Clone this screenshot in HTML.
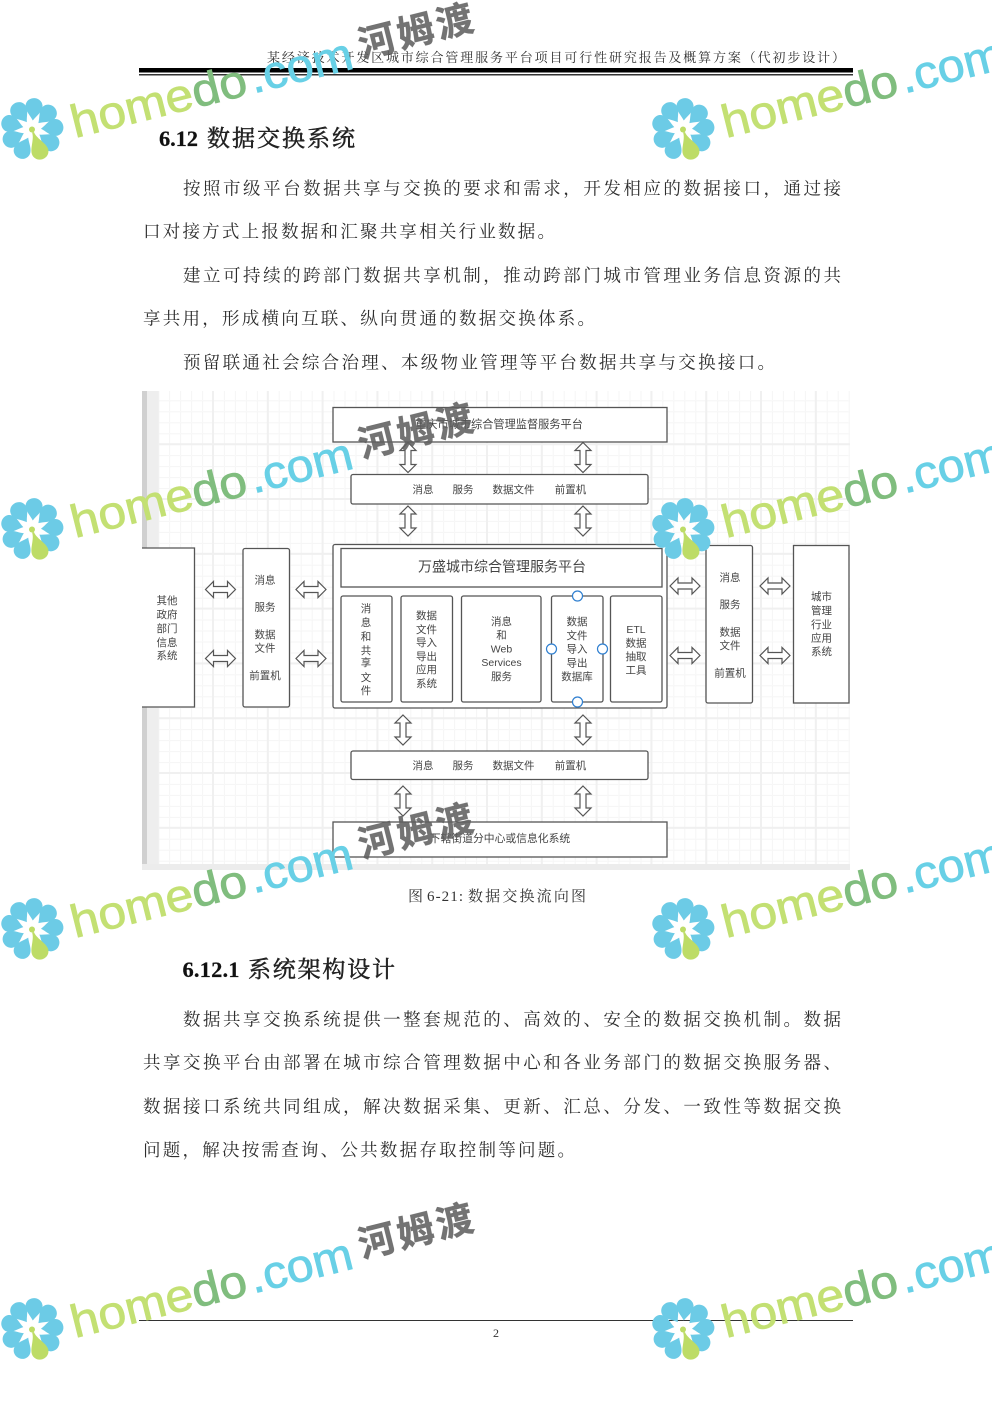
<!DOCTYPE html>
<html lang="zh">
<head>
<meta charset="utf-8">
<title>数据交换系统</title>
<style>
html,body{margin:0;padding:0;background:#fff}
svg{display:block}
.b{font-family:"Liberation Serif","Noto Serif CJK SC",serif;font-size:17.5px;fill:#2e2e2e}
.h{font-family:"Liberation Serif",serif;font-weight:bold;font-size:22.5px;fill:#111;stroke:#111;stroke-width:.2}
.c{font-family:"Liberation Serif","Noto Serif CJK SC",serif;font-size:23px;fill:#222;stroke:#222;stroke-width:.5}
.cp{font-family:"Liberation Serif","Noto Serif CJK SC",serif;font-size:15px;fill:#333}
.d{font-family:"Liberation Sans","Noto Sans CJK SC",sans-serif;font-size:10.5px;fill:#444;text-anchor:middle}
.box{fill:#fff;stroke:#555;stroke-width:1.3}
.ar{fill:#fff;stroke:#555;stroke-width:1.2}
.hd{fill:#fff;stroke:#2f7fd0;stroke-width:1.2}
.w1{font-family:"Liberation Sans",sans-serif;font-size:46px;stroke-width:.8}
.lg{fill:#c3e073;stroke:#c3e073}
.gn{fill:#80bd7e;stroke:#80bd7e}
.cy{fill:#68d0e6;stroke:#68d0e6}
.w2{font-family:"Liberation Sans","Noto Sans CJK SC",sans-serif;font-size:37px;font-weight:bold;fill:#606060;fill-opacity:.88;stroke:#606060;stroke-opacity:.6;stroke-width:.6}
</style>
</head>
<body>
<svg xmlns="http://www.w3.org/2000/svg" width="992" height="1403" viewBox="0 0 992 1403">
<defs>
<pattern id="mn" patternUnits="userSpaceOnUse" x="213" y="773" width="10.96" height="10.96"><path d="M0.5 0.5H10.96M0.5 0.5V10.96" fill="none" stroke="#f5f5f5" stroke-width="1"/></pattern>
<pattern id="mj" patternUnits="userSpaceOnUse" x="212" y="772" width="54.8" height="54.8"><path d="M0 1H54.8M1 0V54.8" fill="none" stroke="#f0f0f0" stroke-width="2"/></pattern>
<path id="va" d="M0,-15 L8,-7 L3,-7 L3,7 L8,7 L0,15 L-8,7 L-3,7 L-3,-7 L-8,-7 Z"/>
<g id="fl">
<g fill="#6ccbe6">
<path id="pt" d="M0,-9 C-3,-14 -8.5,-18 -8.5,-23.5 A8.5,8 0 0 1 8.5,-23.5 C8.5,-18 3,-14 0,-9Z" transform="rotate(5)"/>
<use href="#pt" transform="rotate(40)"/><use href="#pt" transform="rotate(80)"/><use href="#pt" transform="rotate(120)"/>
<use href="#pt" transform="rotate(200)"/><use href="#pt" transform="rotate(240)"/><use href="#pt" transform="rotate(280)"/><use href="#pt" transform="rotate(320)"/>
</g>
<g transform="rotate(160)"><path d="M-1,-3 C-1,-10 -8.5,-17 -8.5,-23.5 A8.5,8 0 0 1 8.5,-23.5 C8.5,-17 1,-10 1,-3Z" fill="#bddc66"/></g>
<circle cx="0" cy="0" r="3" fill="#bddc66"/>
</g>
</defs>

<rect width="992" height="1403" fill="#fff"/>

<!-- header -->
<text x="267" y="62" textLength="578" lengthAdjust="spacing" style="font-family:'Liberation Serif','Noto Serif CJK SC',serif;font-size:13px;fill:#333">某经济技术开发区城市综合管理服务平台项目可行性研究报告及概算方案（代初步设计）</text>
<rect x="139" y="68" width="714" height="4.5" fill="#000"/>
<rect x="139" y="74" width="714" height="1.5" fill="#333"/>

<!-- heading -->
<text class="h" x="159" y="146" textLength="39">6.12</text>
<text class="c" x="207" y="146" textLength="148" lengthAdjust="spacing">数据交换系统</text>

<!-- body -->
<text class="b" x="183" y="194.5" textLength="658" lengthAdjust="spacing">按照市级平台数据共享与交换的要求和需求，开发相应的数据接口，通过接</text>
<text class="b" x="143" y="237.5" textLength="412" lengthAdjust="spacing">口对接方式上报数据和汇聚共享相关行业数据。</text>
<text class="b" x="183" y="281.5" textLength="658" lengthAdjust="spacing">建立可持续的跨部门数据共享机制，推动跨部门城市管理业务信息资源的共</text>
<text class="b" x="143" y="324.5" textLength="452" lengthAdjust="spacing">享共用，形成横向互联、纵向贯通的数据交换体系。</text>
<text class="b" x="183" y="368.5" textLength="592" lengthAdjust="spacing">预留联通社会综合治理、本级物业管理等平台数据共享与交换接口。</text>

<!-- diagram -->
<g>
<rect x="142" y="391" width="708" height="479" fill="#fff"/>
<rect x="142" y="391" width="708" height="479" fill="url(#mn)"/>
<rect x="142" y="391" width="708" height="479" fill="url(#mj)"/>
<rect x="142" y="391" width="5" height="479" fill="#d0d0d0"/>
<rect x="147" y="391" width="11" height="479" fill="#eeeeee"/>
<rect x="142" y="864" width="708" height="6" fill="#ececec"/>

<rect class="box" x="333" y="407.5" width="334" height="34.5"/>
<rect class="box" x="351" y="474.5" width="297" height="29.5" rx="2"/>
<rect class="box" x="333" y="544.5" width="334" height="163.5" rx="2"/>
<rect class="box" x="341" y="548.5" width="321" height="38.5"/>
<rect class="box" x="341" y="596" width="51" height="106" rx="2"/>
<rect class="box" x="401" y="596" width="51.5" height="106" rx="2"/>
<rect class="box" x="461.5" y="596" width="79.5" height="106" rx="2"/>
<rect class="box" x="551.5" y="596" width="51.5" height="106" rx="2"/>
<rect class="box" x="610.5" y="596" width="51.5" height="106" rx="2"/>
<rect x="142" y="548" width="52.5" height="159" fill="#fff"/>
<path d="M142,548 H194.5 V707 H142" fill="none" stroke="#555" stroke-width="1.3"/>
<rect class="box" x="243" y="548.5" width="46.5" height="158.5" rx="2"/>
<rect class="box" x="706" y="545.5" width="46.5" height="157.5" rx="2"/>
<rect class="box" x="793.5" y="545.5" width="55.5" height="157.5"/>
<rect class="box" x="351" y="751" width="297" height="28.5" rx="2"/>
<rect class="box" x="333" y="822" width="334" height="35"/>

<circle class="hd" cx="577.5" cy="596" r="5"/>
<circle class="hd" cx="551.5" cy="649" r="5"/>
<circle class="hd" cx="602.5" cy="649" r="5"/>
<circle class="hd" cx="577.5" cy="702" r="5"/>

<g class="ar">
<use href="#va" transform="translate(408,457.5)"/>
<use href="#va" transform="translate(583,457.5)"/>
<use href="#va" transform="translate(408,521)"/>
<use href="#va" transform="translate(583,521)"/>
<use href="#va" transform="translate(403,730)"/>
<use href="#va" transform="translate(583,730)"/>
<use href="#va" transform="translate(403,801)"/>
<use href="#va" transform="translate(583,801)"/>
<use href="#va" transform="translate(220.5,589.5) rotate(90)"/>
<use href="#va" transform="translate(220.5,658.5) rotate(90)"/>
<use href="#va" transform="translate(311,589.5) rotate(90)"/>
<use href="#va" transform="translate(311,658.5) rotate(90)"/>
<use href="#va" transform="translate(685,586) rotate(90)"/>
<use href="#va" transform="translate(685,655.5) rotate(90)"/>
<use href="#va" transform="translate(775,586) rotate(90)"/>
<use href="#va" transform="translate(775,655.5) rotate(90)"/>
</g>

<text class="d" x="499" y="428" style="font-size:11.2px">重庆市城市综合管理监督服务平台</text>
<g>
<text class="d" x="423" y="493">消息</text><text class="d" x="463" y="493">服务</text><text class="d" x="513.5" y="493">数据文件</text><text class="d" x="570.5" y="493">前置机</text>
<text class="d" x="423" y="769">消息</text><text class="d" x="463" y="769">服务</text><text class="d" x="513.5" y="769">数据文件</text><text class="d" x="570.5" y="769">前置机</text>
</g>
<text class="d" x="502" y="571.5" style="font-size:14px">万盛城市综合管理服务平台</text>
<text class="d" x="500" y="842" style="font-size:10.8px">下辖街道分中心或信息化系统</text>

<g>
<text class="d" x="167" y="604">其他</text><text class="d" x="167" y="618">政府</text><text class="d" x="167" y="632">部门</text><text class="d" x="167" y="646">信息</text><text class="d" x="167" y="659">系统</text>

<text class="d" x="265" y="583.5">消息</text><text class="d" x="265" y="610.5">服务</text><text class="d" x="265" y="638">数据</text><text class="d" x="265" y="651.5">文件</text><text class="d" x="265" y="679">前置机</text>

<text class="d" x="366" y="612">消</text><text class="d" x="366" y="626">息</text><text class="d" x="366" y="640">和</text><text class="d" x="366" y="654">共</text><text class="d" x="366" y="666">享</text><text class="d" x="366" y="681">文</text><text class="d" x="366" y="694">件</text>

<text class="d" x="426.5" y="619">数据</text><text class="d" x="426.5" y="633">文件</text><text class="d" x="426.5" y="646">导入</text><text class="d" x="426.5" y="660">导出</text><text class="d" x="426.5" y="673">应用</text><text class="d" x="426.5" y="687">系统</text>

<text class="d" x="501.5" y="625">消息</text><text class="d" x="501.5" y="638.5">和</text><text class="d" x="501.5" y="652.5">Web</text><text class="d" x="501.5" y="666">Services</text><text class="d" x="501.5" y="680">服务</text>

<text class="d" x="577" y="625">数据</text><text class="d" x="577" y="639">文件</text><text class="d" x="577" y="652.5">导入</text><text class="d" x="577" y="666.5">导出</text><text class="d" x="577" y="680">数据库</text>

<text class="d" x="636" y="633">ETL</text><text class="d" x="636" y="646.5">数据</text><text class="d" x="636" y="660">抽取</text><text class="d" x="636" y="673.5">工具</text>

<text class="d" x="730" y="581">消息</text><text class="d" x="730" y="608">服务</text><text class="d" x="730" y="635.5">数据</text><text class="d" x="730" y="649">文件</text><text class="d" x="730" y="676.5">前置机</text>

<text class="d" x="821.5" y="600">城市</text><text class="d" x="821.5" y="614">管理</text><text class="d" x="821.5" y="628">行业</text><text class="d" x="821.5" y="641.5">应用</text><text class="d" x="821.5" y="655">系统</text>
</g>
</g>

<!-- caption -->
<text class="cp" x="408" y="901">图</text>
<text class="cp" x="427" y="901" textLength="36" lengthAdjust="spacing">6-21:</text>
<text class="cp" x="468" y="901" textLength="118" lengthAdjust="spacing">数据交换流向图</text>

<text class="h" x="182.5" y="977" textLength="57">6.12.1</text>
<text class="c" x="248" y="977" textLength="147" lengthAdjust="spacing">系统架构设计</text>

<text class="b" x="183" y="1025.5" textLength="658" lengthAdjust="spacing">数据共享交换系统提供一整套规范的、高效的、安全的数据交换机制。数据</text>
<text class="b" x="143" y="1068.5" textLength="698" lengthAdjust="spacing">共享交换平台由部署在城市综合管理数据中心和各业务部门的数据交换服务器、</text>
<text class="b" x="143" y="1112.5" textLength="698" lengthAdjust="spacing">数据接口系统共同组成，解决数据采集、更新、汇总、分发、一致性等数据交换</text>
<text class="b" x="143" y="1156" textLength="432" lengthAdjust="spacing">问题，解决按需查询、公共数据存取控制等问题。</text>

<!-- footer -->
<rect x="139" y="1320" width="714" height="1" fill="#333"/>
<text x="496" y="1337" text-anchor="middle" style="font-family:'Liberation Serif',serif;font-size:12px;fill:#333">2</text>

<!-- watermarks -->
<g>
<use href="#fl" transform="translate(32,129.5)"/>
<use href="#fl" transform="translate(683,129.5)"/>
<use href="#fl" transform="translate(32,529.5)"/>
<use href="#fl" transform="translate(683,529.5)"/>
<use href="#fl" transform="translate(32,929.5)"/>
<use href="#fl" transform="translate(683,929.5)"/>
<use href="#fl" transform="translate(32,1329.5)"/>
<use href="#fl" transform="translate(683,1329.5)"/>

<g transform="translate(75,138) rotate(-14)"><text class="w1" textLength="180" lengthAdjust="spacingAndGlyphs"><tspan class="lg">home</tspan><tspan class="gn">do</tspan></text><text class="w1 cy" x="184" textLength="105" lengthAdjust="spacingAndGlyphs">.com</text></g>
<g transform="translate(362,58) rotate(-14)"><text class="w2" textLength="117">河姆渡</text></g>
<g transform="translate(726,138) rotate(-14)"><text class="w1" textLength="180" lengthAdjust="spacingAndGlyphs"><tspan class="lg">home</tspan><tspan class="gn">do</tspan></text><text class="w1 cy" x="184" textLength="105" lengthAdjust="spacingAndGlyphs">.com</text></g>

<g transform="translate(75,538) rotate(-14)"><text class="w1" textLength="180" lengthAdjust="spacingAndGlyphs"><tspan class="lg">home</tspan><tspan class="gn">do</tspan></text><text class="w1 cy" x="184" textLength="105" lengthAdjust="spacingAndGlyphs">.com</text></g>
<g transform="translate(362,458) rotate(-14)"><text class="w2" textLength="117">河姆渡</text></g>
<g transform="translate(726,538) rotate(-14)"><text class="w1" textLength="180" lengthAdjust="spacingAndGlyphs"><tspan class="lg">home</tspan><tspan class="gn">do</tspan></text><text class="w1 cy" x="184" textLength="105" lengthAdjust="spacingAndGlyphs">.com</text></g>

<g transform="translate(75,938) rotate(-14)"><text class="w1" textLength="180" lengthAdjust="spacingAndGlyphs"><tspan class="lg">home</tspan><tspan class="gn">do</tspan></text><text class="w1 cy" x="184" textLength="105" lengthAdjust="spacingAndGlyphs">.com</text></g>
<g transform="translate(362,858) rotate(-14)"><text class="w2" textLength="117">河姆渡</text></g>
<g transform="translate(726,938) rotate(-14)"><text class="w1" textLength="180" lengthAdjust="spacingAndGlyphs"><tspan class="lg">home</tspan><tspan class="gn">do</tspan></text><text class="w1 cy" x="184" textLength="105" lengthAdjust="spacingAndGlyphs">.com</text></g>

<g transform="translate(75,1338) rotate(-14)"><text class="w1" textLength="180" lengthAdjust="spacingAndGlyphs"><tspan class="lg">home</tspan><tspan class="gn">do</tspan></text><text class="w1 cy" x="184" textLength="105" lengthAdjust="spacingAndGlyphs">.com</text></g>
<g transform="translate(362,1258) rotate(-14)"><text class="w2" textLength="117">河姆渡</text></g>
<g transform="translate(726,1338) rotate(-14)"><text class="w1" textLength="180" lengthAdjust="spacingAndGlyphs"><tspan class="lg">home</tspan><tspan class="gn">do</tspan></text><text class="w1 cy" x="184" textLength="105" lengthAdjust="spacingAndGlyphs">.com</text></g>
</g>
</svg>
</body>
</html>
